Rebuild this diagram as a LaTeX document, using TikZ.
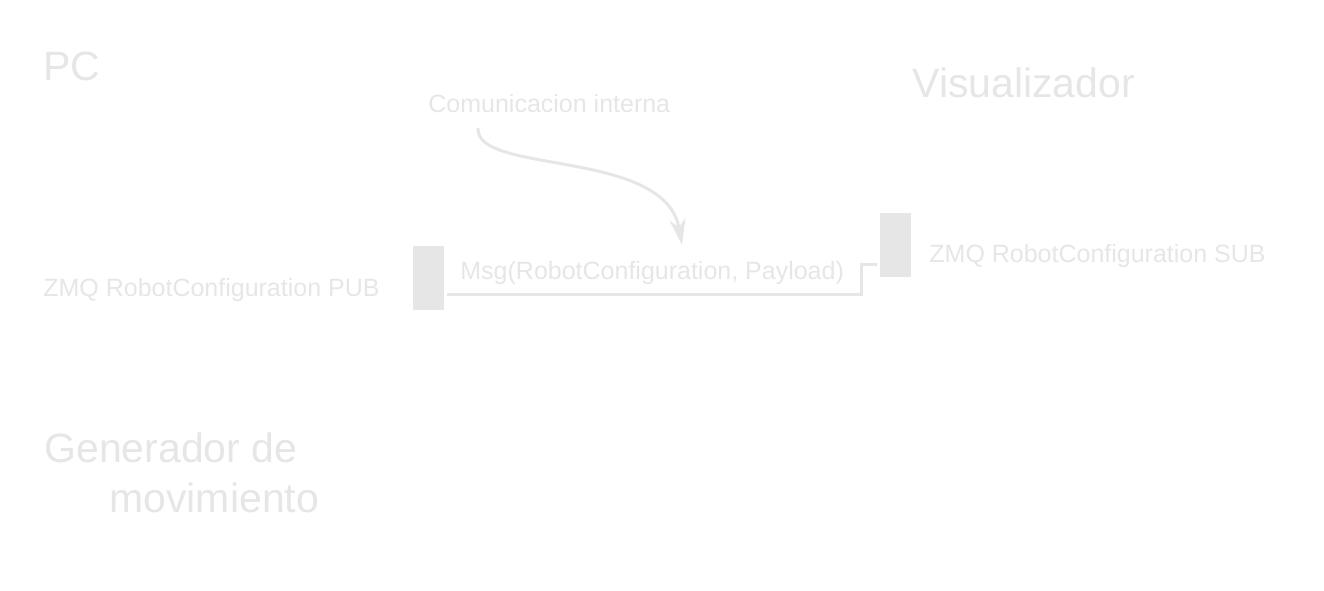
\documentclass[tikz,border=0pt]{standalone}
\usepackage{fontspec}
\setmainfont{Liberation Sans}
\usetikzlibrary{positioning, arrows.meta}
\definecolor{faint}{HTML}{E6E6E6}
\tikzset{
  sockbox/.style={fill=faint, draw=none, inner sep=0pt, minimum width=15.5pt, minimum height=32pt},
  small/.style={text=faint, inner sep=0pt, font=\fontsize{12.5}{15}\selectfont},
  big/.style={text=faint, inner sep=0pt, font=\fontsize{20.5}{25}\selectfont},
  link/.style={draw=faint, line width=1.5pt}
}
\begin{document}
\begin{tikzpicture}[x=0.5pt, y=-0.5pt, >={Stealth[length=13pt, width=8pt, inset=4pt]}]
            \useasboundingbox (0,0) rectangle (1324,590);

            % titles
            \node[big, anchor=base west] (pc) at (43,80) {PC};
            \node[big, anchor=base west] (vis) at (912,97) {Visualizador};
            \node[big, anchor=base west, align=left] (gen) at (44,512) {Generador de\\\hspace*{32.5pt}movimiento};

            % sockets
            \node[sockbox] (pub) at (428.5,278) {};
            \node[sockbox] (sub) at (895.5,245) {};
            \node[small, anchor=base east] (publbl) at (380,296) {ZMQ RobotConfiguration PUB};
            \node[small, anchor=base west] (sublbl) at (929,262) {ZMQ RobotConfiguration SUB};

            % message
            \draw[link, shorten <=1.5pt, shorten >=1.5pt] ([yshift=-8pt]pub.east) -| ([xshift=-9pt, yshift=-9.5pt]sub.west) -- ([yshift=-9.5pt]sub.west);
            \node[small, anchor=base west] (msg) at (460,279) {Msg(RobotConfiguration, Payload)};

            % internal communication
            \node[small, anchor=base west] (intlbl) at (428,112) {Comunicacion interna};
            \coordinate (cstart) at (478,128);
            \coordinate (ctip) at (682,245);
            \draw[link, ->] (cstart) .. controls (475,175) and (665,148) .. (ctip);
        \end{tikzpicture}
\end{document}
